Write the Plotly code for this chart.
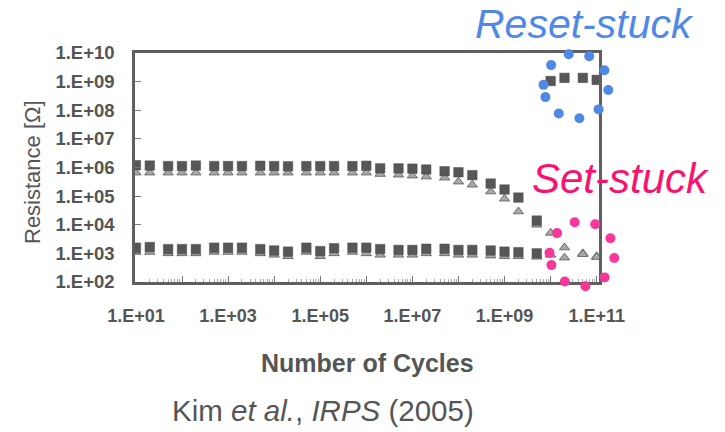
import math
import plotly.graph_objects as go

# ---------------- data ----------------
cycles = [1e1, 2e1, 5e1, 1e2, 2e2, 5e2, 1e3, 2e3, 5e3, 1e4, 2e4, 5e4, 1e5, 2e5, 5e5,
          1e6, 2e6, 5e6, 1e7, 2e7, 5e7, 1e8, 2e8, 5e8, 1e9, 2e9, 5e9,
          1e10, 2e10, 5e10, 1e11]

# squares, high-resistance state (up to 5e9)
sq_high = [1.2e6, 1.17e6, 1.12e6, 1.12e6, 1.17e6, 1.12e6, 1.12e6, 1.12e6, 1.15e6, 1.12e6,
           1.1e6, 1.12e6, 1.12e6, 1.12e6, 1.12e6, 1.15e6, 9.3e5, 9.3e5, 9.1e5, 8.5e5,
           7.4e5, 6.8e5, 5.4e5, 2.75e5, 1.7e5, 8.9e4, 1.4e4]
# squares, reset-stuck (1e10 .. 1e11)
sq_stuck_cycles = [1e10, 2e10, 5e10, 1e11]
sq_stuck = [1.05e9, 1.35e9, 1.35e9, 1.15e9]
# squares, low-resistance state (up to 5e9)
sq_low = [1580, 1660, 1410, 1410, 1410, 1580, 1580, 1580, 1410, 1260, 1150, 1580, 1200,
          1510, 1580, 1580, 1410, 1320, 1320, 1450, 1450, 1320, 1320, 1260, 1150, 1100, 1000]

# triangles, high-resistance state (set-stuck after 1e10)
tri_high = [6.6e5, 6.6e5, 6.6e5, 6.6e5, 6.6e5, 6.6e5, 6.6e5, 6.6e5, 6.6e5, 6.6e5,
            6.6e5, 6.6e5, 6.6e5, 6.6e5, 6.6e5, 6.6e5, 5.9e5, 5.6e5, 5.2e5, 4.8e5,
            4.4e5, 3.2e5, 2.5e5, 1.45e5, 8.1e4, 2.9e4, 1.0e4, 5.2e3, 1.6e3, 1.0e3, 790]
# triangles, low-resistance state
tri_low = [1120, 1120, 1000, 1000, 1000, 1120, 1120, 1120, 1000, 890, 790, 1120, 790,
           1000, 1120, 1000, 890, 890, 890, 1000, 1000, 890, 890, 830, 790, 790, 760,
           890, 710, 930, 740]

x_ticks = [1e1, 1e2, 1e3, 1e4, 1e5, 1e6, 1e7, 1e8, 1e9, 1e10, 1e11]
x_ticktext = ["1.E+01", "", "1.E+03", "", "1.E+05", "", "1.E+07", "", "1.E+09", "", "1.E+11"]
y_ticks = [1e2, 1e3, 1e4, 1e5, 1e6, 1e7, 1e8, 1e9, 1e10]
y_ticktext = ["1.E+02", "1.E+03", "1.E+04", "1.E+05", "1.E+06", "1.E+07", "1.E+08", "1.E+09", "1.E+10"]
x_minor = [m * 10 ** e for e in range(1, 11) for m in range(2, 10)]

# ---------------- geometry ----------------
W, H = 725, 432
L, R, T, B = 135, 599, 53, 282   # plot box in pixels


def px(x):
    return (x - L) / (R - L)


def py(y):
    return (B - y) / (B - T)


GRAY = "#555555"
FONT = "Liberation Sans, Arial, sans-serif"

fig = go.Figure()

tri_style = dict(symbol="triangle-up", size=9, color="#a8a8a8",
                 line=dict(color="#6e6e6e", width=1))
sq_style = dict(symbol="square", size=9.5, color="#575757",
                line=dict(color="#4a4a4a", width=0.5))

fig.add_trace(go.Scatter(x=cycles, y=tri_high, mode="markers", marker=tri_style,
                         showlegend=False, name="tri high"))
fig.add_trace(go.Scatter(x=cycles, y=tri_low, mode="markers", marker=tri_style,
                         showlegend=False, name="tri low"))
fig.add_trace(go.Scatter(x=cycles[:len(sq_high)], y=sq_high, mode="markers", marker=sq_style,
                         showlegend=False, name="sq high"))
fig.add_trace(go.Scatter(x=sq_stuck_cycles, y=sq_stuck, mode="markers", marker=sq_style,
                         showlegend=False, name="sq stuck"))
fig.add_trace(go.Scatter(x=cycles[:len(sq_low)], y=sq_low, mode="markers", marker=sq_style,
                         showlegend=False, name="sq low"))

fig.update_xaxes(type="log", range=[0.98, 11.05], tickmode="array", tickvals=x_ticks,
                 ticktext=x_ticktext, ticks="inside", ticklen=6, tickwidth=1.2,
                 tickcolor="#777777", showline=True, linewidth=2.5, linecolor="#606060",
                 mirror=True, showgrid=False, zeroline=False,
                 tickfont=dict(family=FONT, size=18, color=GRAY, weight="bold"),
                 ticklabelstandoff=16,
                 minor=dict(tickmode="array", tickvals=x_minor, ticks="inside",
                            ticklen=3, tickcolor="#aaaaaa", tickwidth=1, showgrid=False))
fig.update_yaxes(type="log", range=[2, 10], tickmode="array", tickvals=y_ticks,
                 ticktext=y_ticktext, ticks="inside", ticklen=6, tickwidth=1.2,
                 tickcolor="#777777", showline=True, linewidth=2.5, linecolor="#606060",
                 mirror=True, showgrid=False, zeroline=False,
                 tickfont=dict(family=FONT, size=18.5, color=GRAY, weight="bold"),
                 ticklabelstandoff=14)

annotations = [
    dict(text="Number of Cycles", x=px(367), y=py(363), xref="paper", yref="paper",
         showarrow=False, xanchor="center", yanchor="middle",
         font=dict(family=FONT, size=25, color=GRAY, weight="bold")),
    dict(text="Resistance [Ω]", x=px(32), y=py(172), xref="paper", yref="paper",
         showarrow=False, xanchor="center", yanchor="middle", textangle=-90,
         font=dict(family=FONT, size=22, color=GRAY)),
    dict(text="Kim <i>et al.</i>, <i>IRPS</i> (2005)", x=px(323), y=py(411),
         xref="paper", yref="paper", showarrow=False, xanchor="center", yanchor="middle",
         font=dict(family=FONT, size=29.5, color=GRAY)),
    dict(text="<i>Reset-stuck</i>", x=px(584), y=py(24), xref="paper", yref="paper",
         showarrow=False, xanchor="center", yanchor="middle",
         font=dict(family=FONT, size=41, color="#5088e6")),
    dict(text="<i>Set-stuck</i>", x=px(620), y=py(178), xref="paper", yref="paper",
         showarrow=False, xanchor="center", yanchor="middle",
         font=dict(family=FONT, size=42, color="#f7136f")),
]

# dotted highlight circles (decoration)
dot_angles = [29, 66, 103, 140, 178, 200, 238, 276, 314, 353]
circles = [((576, 86), 32.5, "#5088e6"), ((582, 254), 32.5, "#f7389a")]
dot_r = 5
shapes = []
for (cx, cy), rad, col in circles:
    for a in dot_angles:
        dx = cx + rad * math.cos(math.radians(a))
        dy = cy - rad * math.sin(math.radians(a))
        shapes.append(dict(type="circle", xref="paper", yref="paper",
                           x0=px(dx - dot_r), x1=px(dx + dot_r),
                           y0=py(dy + dot_r), y1=py(dy - dot_r),
                           fillcolor=col, line=dict(width=0), layer="above"))

fig.update_layout(width=W, height=H, autosize=False,
                  margin=dict(l=L, r=W - R, t=T, b=H - B, pad=0),
                  paper_bgcolor="white", plot_bgcolor="white",
                  annotations=annotations, shapes=shapes, showlegend=False)

fig.write_html("out.html")
